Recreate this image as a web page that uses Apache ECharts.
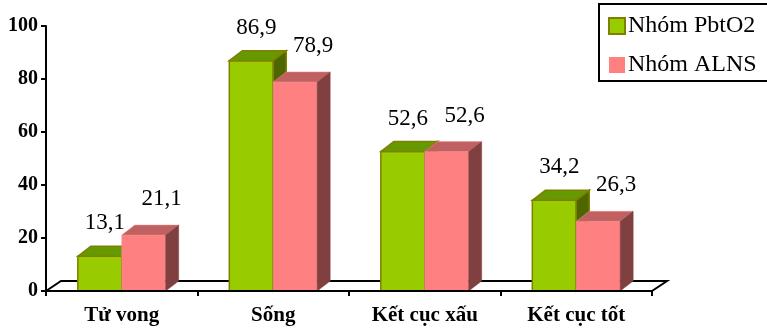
<!DOCTYPE html>
<html><head><meta charset="utf-8">
<script src="https://cdn.jsdelivr.net/npm/echarts@6/dist/echarts.min.js"></script>
<style>html,body{margin:0;padding:0;background:#fff}#c{width:767px;height:331px}</style>
</head><body><div id="c"></div>
<script>
var categories = ['Tử vong', 'Sống', 'Kết cục xấu', 'Kết cục tốt'];
var pbto2Values = [13.1, 86.9, 52.6, 34.2];
var alnsValues = [21.1, 78.9, 52.6, 26.3];
var seriesNames = ['Nhóm PbtO2', 'Nhóm ALNS'];
var yTicks = [0, 20, 40, 60, 80, 100];

var FONT = '"Liberation Serif", "Times New Roman", serif';
var DX = 13, DY = -10;

function fmt(v){ return String(v).replace('.', ','); }

function makeRender(side, c, labelDx, labelGap){
  return function(params, api){
    var ci = api.value(0), v = api.value(1);
    var top = api.coord([ci, v]);
    var base = api.coord([ci, 0]);
    var band = api.size([1, 0])[0];
    var bw = band * 0.29;
    var x0 = side < 0 ? top[0] - bw : top[0];
    var x1 = x0 + bw;
    var yT = top[1], yB = base[1];
    return {
      type: 'group',
      children: [
        {type:'rect', shape:{x:x0, y:yT, width:bw, height:yB-yT},
         style:{fill:c.front, stroke:c.border, lineWidth:c.bw}},
        {type:'polygon', shape:{points:[[x0,yT],[x0+DX,yT+DY],[x1+DX,yT+DY],[x1,yT]]},
         style:{fill:c.top, stroke:c.border, lineWidth:c.bw}},
        {type:'polygon', shape:{points:[[x1,yT],[x1+DX,yT+DY],[x1+DX,yB+DY],[x1,yB]]},
         style:{fill:c.side, stroke:c.sideBorder, lineWidth:c.bw}},
        {type:'text', style:{text:fmt(v), x:(x0+x1)/2 + labelDx, y:yT+DY-labelGap,
          align:'center', verticalAlign:'middle',
          font:'23px ' + FONT, fill:'#000'}}
      ]
    };
  };
}

var green = {front:'#99CC00', top:'#669900', side:'#4D6600', border:'#808000', sideBorder:'#808000', bw:1.5};
var pink = {front:'#FF8080', top:'#C06060', side:'#804040', border:'#F09090', sideBorder:'#804040', bw:0.5};

function floorRender(params, api){
  var cs = params.coordSys;
  var xl = cs.x, xr = cs.x + cs.width, yb = cs.y + cs.height;
  return {type:'polyline', shape:{points:[[xl,yb],[xl+15,yb-10],[xr+15,yb-10],[xr,yb]]},
    style:{fill:null, stroke:'#000', lineWidth:2}};
}

var chart = echarts.init(document.getElementById('c'), null, {renderer:'canvas'});
chart.setOption({
  animation:false,
  backgroundColor:'#fff',
  grid:{left:46, right:115, top:26, bottom:40},
  legend:{
    orient:'vertical', left:599, top:4,
    padding:[10, 20, 4, 9], itemGap:15,
    itemWidth:16, itemHeight:16,
    borderColor:'#000', borderWidth:2, backgroundColor:'#fff',
    textStyle:{fontFamily:FONT, fontSize:24, lineHeight:24, color:'#000', padding:[0,0,0,-2]},
    data:[
      {name:seriesNames[0], icon:'rect', itemStyle:{color:'#99CC00', borderColor:'#808000', borderWidth:2}},
      {name:seriesNames[1], icon:'rect', itemStyle:{color:'#FF8080', borderColor:'#FF8080', borderWidth:0}}
    ]
  },
  xAxis:{
    type:'category', data:categories,
    axisLine:{show:true, lineStyle:{color:'#000', width:2}},
    axisTick:{show:true, length:5, lineStyle:{color:'#000', width:2}},
    axisLabel:{fontFamily:FONT, fontSize:21, fontWeight:'bold', color:'#000', margin:14},
    z:10
  },
  yAxis:{
    type:'value', min:0, max:100, interval:20,
    axisLine:{show:true, lineStyle:{color:'#000', width:2}},
    axisTick:{show:true, length:5, lineStyle:{color:'#000', width:2}},
    axisLabel:{fontFamily:FONT, fontSize:20, fontWeight:'bold', color:'#000', margin:8,
      formatter:function(v){ return yTicks.indexOf(v) >= 0 ? String(v) : ''; }},
    splitLine:{show:false}
  },
  series:[
    {type:'custom', name:'floor', renderItem:floorRender, data:[[0]], silent:true, z:1,
     encode:{x:-1, y:-1}},
    {type:'custom', name:seriesNames[0], renderItem:makeRender(-1, green, 5, 23), z:2,
     itemStyle:{color:'#99CC00'},
     data:pbto2Values.map(function(v,i){return [i, v];}), encode:{x:0, y:1}},
    {type:'custom', name:seriesNames[1], renderItem:makeRender(1, pink, 18, 26), z:3,
     itemStyle:{color:'#FF8080'},
     data:alnsValues.map(function(v,i){return [i, v];}), encode:{x:0, y:1}}
  ]
});
</script></body></html>
